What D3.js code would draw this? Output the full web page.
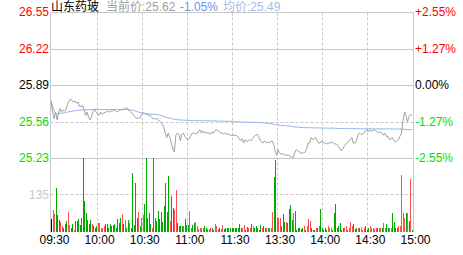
<!DOCTYPE html>
<html>
<head>
<meta charset="utf-8">
<script src="https://cdn.jsdelivr.net/npm/d3@7/dist/d3.min.js"></script>
<style>
  body { margin: 0; background: #fff; }
  svg { display: block; font-family: "Liberation Sans", Arial, "Noto Sans CJK SC", sans-serif; }
</style>
</head>
<body>
<svg id="chart"></svg>
<script>
// ---- data ----
var stockName = "山东药玻";
var lastPrice = "25.62", lastPct = "-1.05%", avgPrice = "25.49";

var priceTicks = [26.55, 26.22, 25.89, 25.56, 25.23];
var pctTicks = ["+2.55%", "+1.27%", "0.00%", "-1.27%", "-2.55%"];
var timeLabels = ["09:30", "10:00", "10:30", "11:00", "11:30", "13:30", "14:00", "14:30", "15:00"];
var timeIndex = [0, 30, 60, 90, 120, 150, 180, 210, 240];
var volTick = 135;

// 09:30 - 11:30
var priceAM = [25.75,25.66,25.59,25.65,25.58,25.64,25.68,25.65,25.67,25.66,
  25.67,25.72,25.75,25.77,25.75,25.74,25.75,25.73,25.74,25.70,
  25.70,25.71,25.67,25.62,25.65,25.60,25.58,25.61,25.66,25.68,
  25.65,25.63,25.62,25.65,25.63,25.64,25.65,25.65,25.66,25.65,
  25.66,25.66,25.67,25.66,25.65,25.66,25.67,25.67,25.68,25.67,
  25.69,25.68,25.66,25.65,25.64,25.62,25.60,25.59,25.60,25.59,
  25.62,25.64,25.64,25.63,25.63,25.62,25.62,25.60,25.59,25.59,
  25.59,25.58,25.57,25.56,25.54,25.51,25.46,25.42,25.46,25.42,
  25.37,25.32,25.29,25.44,25.46,25.45,25.39,25.45,25.46,25.43,
  25.41,25.40,25.41,25.44,25.46,25.46,25.45,25.46,25.47,25.49,
  25.46,25.48,25.46,25.47,25.46,25.46,25.45,25.47,25.46,25.48,
  25.49,25.48,25.47,25.46,25.46,25.45,25.46,25.45,25.45,25.44,
  25.44];
// 13:01 - 15:00
var pricePM = [25.44,25.44,25.44,25.43,25.41,25.39,25.41,25.37,25.40,25.38,
  25.39,25.40,25.39,25.41,25.43,25.44,25.45,25.43,25.40,25.38,
  25.37,25.39,25.37,25.38,25.37,25.38,25.39,25.36,25.30,25.26,
  25.31,25.28,25.27,25.27,25.27,25.26,25.26,25.26,25.25,25.24,
  25.24,25.28,25.31,25.30,25.29,25.28,25.28,25.28,25.29,25.32,
  25.37,25.37,25.42,25.40,25.41,25.42,25.39,25.37,25.37,25.39,
  25.38,25.37,25.36,25.37,25.37,25.37,25.38,25.37,25.36,25.36,
  25.34,25.32,25.30,25.32,25.34,25.36,25.37,25.39,25.40,25.42,
  25.37,25.37,25.39,25.44,25.46,25.45,25.45,25.46,25.48,25.49,
  25.47,25.49,25.48,25.48,25.49,25.48,25.47,25.46,25.47,25.46,
  25.44,25.46,25.43,25.43,25.40,25.41,25.42,25.39,25.38,25.39,
  25.40,25.43,25.46,25.57,25.65,25.62,25.56,25.61,25.63,25.62];

var avgAM = [25.750,25.705,25.665,25.640,25.632,25.635,25.638,25.640,25.642,25.645,
  25.648,25.650,25.653,25.656,25.658,25.660,25.662,25.664,25.665,25.667,
  25.668,25.669,25.670,25.670,25.670,25.670,25.671,25.671,25.672,25.672,
  25.672,25.673,25.673,25.673,25.673,25.673,25.673,25.673,25.673,25.673,
  25.673,25.673,25.673,25.673,25.673,25.673,25.673,25.673,25.673,25.673,
  25.673,25.672,25.671,25.669,25.667,25.664,25.660,25.655,25.651,25.647,
  25.644,25.641,25.638,25.636,25.634,25.633,25.632,25.631,25.630,25.629,
  25.628,25.626,25.625,25.620,25.614,25.610,25.605,25.601,25.598,25.596,
  25.594,25.588,25.584,25.582,25.581,25.580,25.579,25.578,25.577,25.576,
  25.575,25.575,25.574,25.574,25.573,25.573,25.572,25.572,25.572,25.572,
  25.572,25.571,25.571,25.571,25.571,25.571,25.570,25.570,25.570,25.570,
  25.570,25.568,25.568,25.568,25.568,25.568,25.566,25.566,25.566,25.566,
  25.566];
var avgPM = [25.563,25.563,25.562,25.562,25.561,25.561,25.560,25.560,25.559,25.559,
  25.558,25.558,25.558,25.557,25.557,25.557,25.556,25.556,25.556,25.555,
  25.553,25.550,25.548,25.547,25.546,25.545,25.543,25.540,25.537,25.534,
  25.532,25.531,25.530,25.529,25.528,25.527,25.526,25.524,25.522,25.520,
  25.518,25.516,25.514,25.513,25.512,25.511,25.510,25.510,25.509,25.509,
  25.508,25.508,25.508,25.507,25.507,25.507,25.506,25.506,25.506,25.505,
  25.505,25.505,25.505,25.504,25.504,25.504,25.504,25.503,25.503,25.501,
  25.501,25.501,25.501,25.501,25.501,25.501,25.501,25.500,25.500,25.500,
  25.500,25.500,25.500,25.500,25.500,25.499,25.499,25.499,25.499,25.499,
  25.499,25.499,25.499,25.499,25.498,25.498,25.498,25.498,25.498,25.498,
  25.498,25.498,25.498,25.497,25.497,25.497,25.497,25.497,25.497,25.497,
  25.497,25.497,25.496,25.495,25.494,25.493,25.492,25.491,25.491,25.490];

var volAM = [46,79,64,158,61,43,37,21,15,28,
  40,72,24,16,28,6,39,39,46,24,
  50,265,112,69,43,30,45,28,21,16,
  21,32,32,16,16,21,30,30,16,28,
  21,24,28,16,46,33,52,64,28,43,
  15,43,33,15,214,24,176,51,72,21,
  51,60,101,265,50,69,30,16,268,50,
  39,77,46,72,37,94,178,72,203,39,
  130,86,79,152,32,21,21,21,21,46,
  24,24,75,16,24,32,35,21,10,16,
  16,13,21,16,10,10,13,16,6,28,
  21,10,16,10,24,10,13,13,13,16,
  13];
var volPM = [13,13,16,16,30,16,16,24,9,18,
  16,16,28,21,16,23,13,9,24,16,
  21,16,13,16,13,13,73,197,259,55,
  52,50,21,64,35,35,33,83,97,45,
  67,77,9,13,13,11,13,21,9,21,
  46,39,13,6,6,13,13,23,83,13,
  6,13,6,21,13,13,6,67,101,13,
  21,33,6,13,16,21,6,16,35,21,
  30,11,16,13,16,18,6,16,21,6,
  13,21,13,16,11,16,13,13,13,13,
  33,13,28,13,13,13,68,35,13,13,
  21,21,207,69,50,67,69,39,190,6];

// 1 = up tick (red), -1 = down tick (green), 0 = open (black)
var dirAM = [0,1,1,-1,-1,-1,1,1,-1,-1,
  -1,1,1,-1,-1,1,-1,-1,-1,-1,
  -1,-1,-1,-1,-1,-1,-1,1,-1,-1,
  -1,1,1,1,1,1,-1,-1,-1,-1,
  -1,-1,-1,-1,-1,-1,-1,1,-1,1,
  -1,-1,1,-1,-1,-1,-1,-1,1,-1,
  1,1,-1,-1,-1,-1,-1,1,-1,-1,
  -1,-1,-1,-1,-1,-1,-1,-1,-1,1,
  -1,-1,1,1,-1,-1,-1,-1,1,-1,
  -1,-1,1,1,-1,-1,1,1,1,1,
  1,1,-1,-1,1,1,1,-1,-1,1,
  1,1,-1,1,1,-1,-1,-1,-1,-1,
  -1];
var dirPM = [-1,-1,-1,-1,-1,-1,1,1,-1,-1,
  1,1,-1,1,-1,-1,-1,-1,-1,1,
  -1,-1,1,-1,1,1,1,-1,-1,1,
  1,1,-1,-1,-1,1,-1,-1,-1,-1,
  1,-1,-1,-1,-1,-1,-1,1,-1,1,
  1,1,-1,-1,-1,1,-1,1,-1,-1,
  -1,-1,-1,1,1,1,-1,-1,-1,-1,
  -1,-1,-1,-1,1,1,-1,1,1,1,
  -1,-1,-1,1,-1,1,1,1,-1,-1,
  -1,1,1,1,1,1,-1,1,1,-1,
  1,1,-1,-1,1,1,-1,-1,-1,-1,
  1,1,1,1,1,-1,1,-1,1,-1];

// ---- chart ----
var width = 463, height = 255;
// note: "top" is reserved on window, so use plot* names
var plotLeft = 50.5, plotRight = 413.5, plotTop = 12.5, priceBottom = 158.5, volBottom = 232;

var price = priceAM.concat(pricePM),
    avg = avgAM.concat(avgPM),
    vol = volAM.concat(volPM),
    dir = dirAM.concat(dirPM);

var gridColor = "#c8c8c8",
    upColor = "#ff5050",
    downColor = "#00a800",
    upText = "#ff0000",
    downText = "#00e000";

var svg = d3.select("#chart")
    .attr("width", width)
    .attr("height", height);

var x = d3.scaleLinear().domain([0, 240]).range([51, 412]);
var y = d3.scaleLinear().domain([25.23, 26.55]).range([priceBottom, plotTop]);
var yVol = d3.scaleLinear().domain([0, 270]).range([volBottom, 157]);

function crisp(v) { return Math.round(v - 0.5) + 0.5; }
function labelColor(i) { return i < 2 ? upText : (i == 2 ? "#000" : downText); }

// horizontal grid (25.56 is dashed)
svg.append("g").selectAll("line")
    .data(priceTicks)
  .enter().append("line")
    .attr("x1", plotLeft).attr("x2", plotRight)
    .attr("y1", function(d) { return crisp(y(d)); })
    .attr("y2", function(d) { return crisp(y(d)); })
    .attr("stroke", gridColor)
    .attr("stroke-dasharray", function(d) { return d == 25.56 ? "3,2" : null; });

svg.append("line")
    .attr("x1", plotLeft).attr("x2", plotRight)
    .attr("y1", crisp(yVol(volTick))).attr("y2", crisp(yVol(volTick)))
    .attr("stroke", gridColor)
    .attr("stroke-dasharray", "3,2");

// vertical grid
svg.append("g").selectAll("line")
    .data(timeIndex.slice(1, -1))
  .enter().append("line")
    .attr("x1", function(d) { return crisp(x(d)) + 1; })
    .attr("x2", function(d) { return crisp(x(d)) + 1; })
    .attr("y1", plotTop).attr("y2", volBottom)
    .attr("stroke", gridColor)
    .attr("stroke-dasharray", "3,2");

// frame (no bottom edge)
svg.append("path")
    .attr("d", "M" + plotLeft + "," + volBottom + "V" + plotTop + "H" + plotRight + "V" + volBottom)
    .attr("fill", "none")
    .attr("stroke", gridColor);

// volume bars
svg.append("g").selectAll("rect")
    .data(vol)
  .enter().append("rect")
    .attr("x", function(d, i) { return Math.round(x(i)); })
    .attr("y", function(d) { return yVol(d); })
    .attr("width", 1)
    .attr("height", function(d) { return volBottom - yVol(d); })
    .attr("shape-rendering", "crispEdges")
    .attr("fill", function(d, i) { return dir[i] > 0 ? upColor : (dir[i] < 0 ? downColor : "#000"); });

// average line
svg.append("path")
    .datum(avg)
    .attr("fill", "none")
    .attr("stroke", "#8fb2ee")
    .attr("d", d3.line().x(function(d, i) { return x(i); }).y(function(d) { return y(d); }));

// price line
svg.append("path")
    .datum(price)
    .attr("fill", "none")
    .attr("stroke", "#a0a0a0")
    .attr("d", d3.line().x(function(d, i) { return x(i); }).y(function(d) { return y(d); }));

// left price labels
svg.append("g").selectAll("text")
    .data(priceTicks)
  .enter().append("text")
    .attr("x", 49)
    .attr("y", function(d) { return y(d) + 3.5; })
    .attr("text-anchor", "end")
    .attr("font-size", "12px")
    .attr("fill", function(d, i) { return labelColor(i); })
    .text(function(d) { return d.toFixed(2); });

svg.append("text")
    .attr("x", 49)
    .attr("y", yVol(volTick) + 4)
    .attr("text-anchor", "end")
    .attr("font-size", "12px")
    .attr("fill", "#c8c8c8")
    .text(volTick);

// right percent labels
svg.append("g").selectAll("text")
    .data(pctTicks)
  .enter().append("text")
    .attr("x", 415)
    .attr("y", function(d, i) { return y(priceTicks[i]) + 3.5; })
    .attr("font-size", "12px")
    .attr("fill", function(d, i) { return labelColor(i); })
    .text(function(d) { return d; });

// time labels
svg.append("g").selectAll("text")
    .data(timeLabels)
  .enter().append("text")
    .attr("x", function(d, i) { return x(timeIndex[i]) + 3.5; })
    .attr("y", 243.5)
    .attr("text-anchor", "middle")
    .attr("font-size", "12px")
    .attr("fill", "#000")
    .text(function(d) { return d; });

// title
var title = svg.append("text")
    .attr("y", 10.5)
    .attr("font-size", "12px");
title.append("tspan").attr("x", 51).attr("fill", "#000").text(stockName);
title.append("tspan").attr("x", 106).attr("fill", "#a0a0a0").text("当前价:" + lastPrice);
title.append("tspan").attr("x", 180).attr("fill", "#6f90dc").text(lastPct);
title.append("tspan").attr("x", 223).attr("fill", "#a3bbeb").text("均价:" + avgPrice);
</script>
</body>
</html>
